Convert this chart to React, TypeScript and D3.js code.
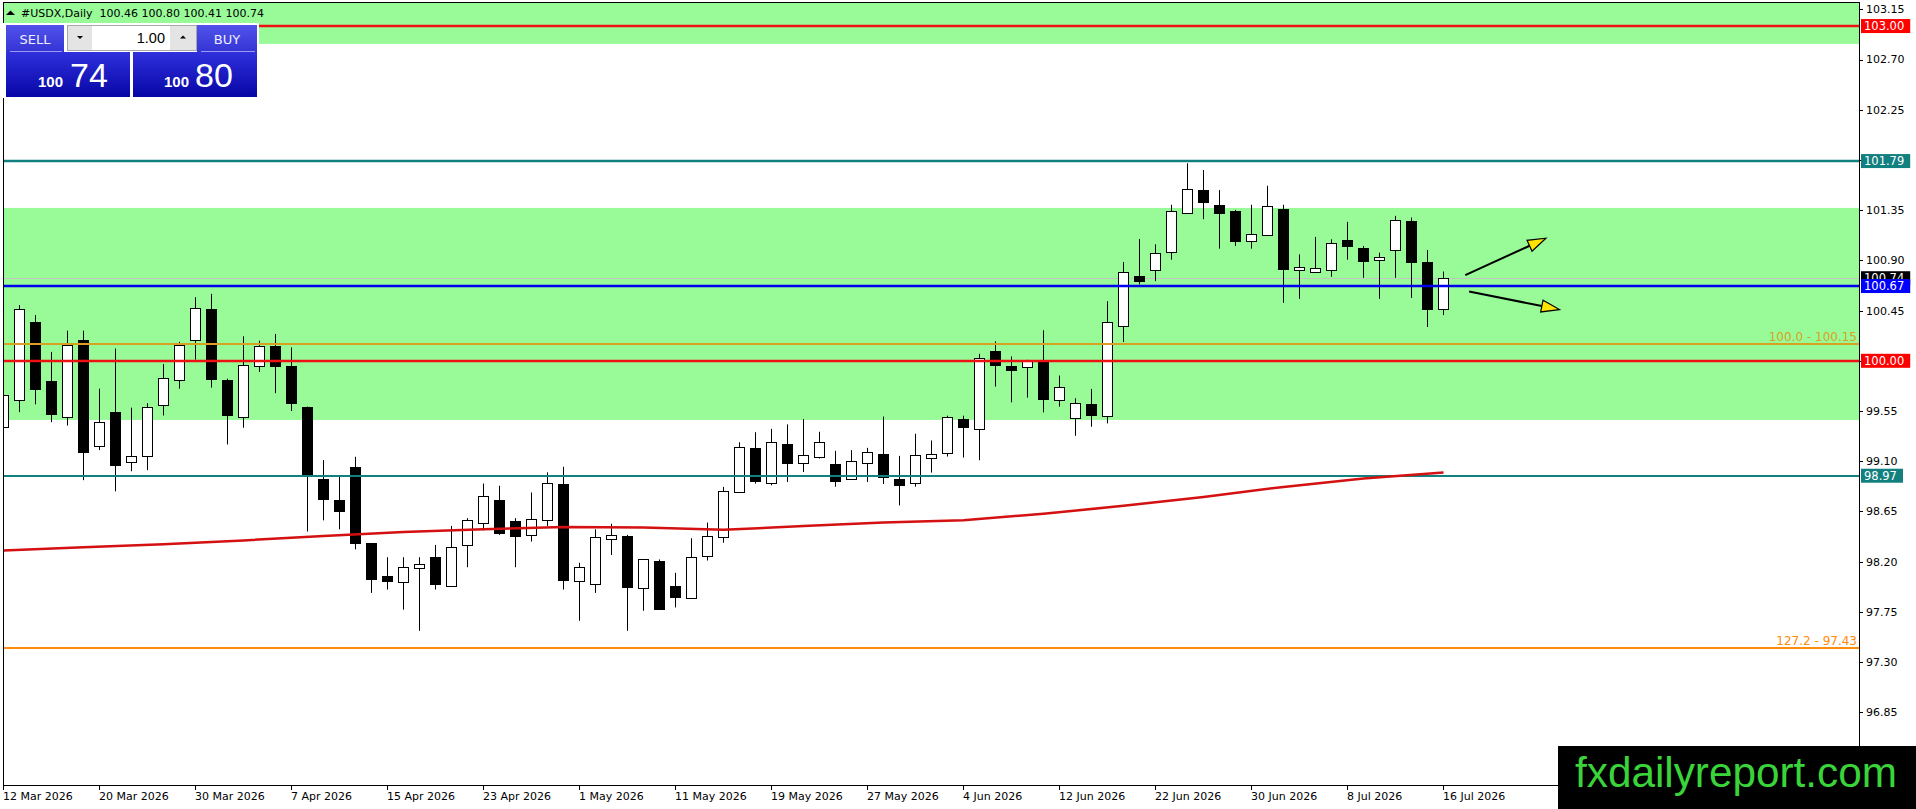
import * as d3 from "d3";
import React from "react";

// USDX daily, 12 Mar 2026 .. 16 Jul 2026 (one value per trading day)
const opens = [
  99.41, 99.65, 100.35, 99.82, 99.5, 100.19, 99.24, 99.54, 99.09, 99.15,
  99.6, 99.83, 100.19, 100.46, 99.83, 99.5, 99.955, 100.135, 99.95, 99.59,
  98.94, 98.75, 99.05, 98.365, 98.07, 98.02, 98.14, 98.24, 97.98, 98.35,
  98.55, 98.75, 98.56, 98.44, 98.57, 98.9, 98.03, 98.0, 98.4, 98.43,
  97.96, 98.21, 97.98, 97.87, 98.25, 98.42, 98.82, 99.22, 98.905, 99.256,
  99.082, 99.139, 99.076, 98.938, 99.088, 99.166, 98.944, 98.908, 99.127, 99.172,
  99.478, 99.388, 100.09, 99.949, 99.946, 100.0, 99.649, 99.484, 99.613, 99.505,
  100.315, 100.756, 100.81, 100.972, 101.323, 101.53, 101.398, 101.344, 101.071, 101.125,
  101.362, 100.81, 100.792, 100.81, 101.08, 101.008, 100.906, 100.996, 101.254, 100.885,
  100.46,
];
const highs = [
  99.72, 100.5, 100.41, 100.08, 100.27, 100.27, 99.75, 100.11, 99.58, 99.62,
  99.97, 100.17, 100.57, 100.6, 99.84, 100.22, 100.18, 100.24, 100.12, 99.59,
  99.11, 98.97, 99.14, 98.365, 98.24, 98.24, 98.24, 98.35, 98.52, 98.59,
  98.9, 98.88, 98.59, 98.82, 99.0, 99.05, 98.19, 98.49, 98.54, 98.44,
  98.22, 98.22, 98.1, 98.41, 98.55, 98.87, 99.27, 99.36, 99.39, 99.43,
  99.478, 99.364, 99.193, 99.2, 99.22, 99.5, 99.148, 99.346, 99.286, 99.508,
  99.508, 100.063, 100.174, 100.039, 100.009, 100.273, 99.868, 99.664, 99.748, 100.534,
  100.885, 101.092, 101.044, 101.398, 101.77, 101.71, 101.53, 101.353, 101.398, 101.569,
  101.398, 100.954, 101.11, 101.089, 101.245, 101.029, 100.969, 101.299, 101.284, 100.993,
  100.8,
];
const lows = [
  99.2, 99.54, 99.61, 99.45, 99.42, 98.93, 99.2, 98.83, 99.01, 99.02,
  99.51, 99.75, 100.01, 99.76, 99.25, 99.4, 99.9, 99.71, 99.55, 98.47,
  98.57, 98.49, 98.31, 97.92, 97.95, 97.77, 97.58, 97.95, 97.98, 98.15,
  98.48, 98.44, 98.15, 98.38, 98.52, 97.95, 97.67, 97.92, 98.26, 97.58,
  97.76, 97.78, 97.79, 97.87, 98.21, 98.37, 98.82, 98.9, 98.884, 98.914,
  99.004, 99.124, 98.872, 98.938, 98.914, 98.896, 98.704, 98.872, 98.998, 99.142,
  99.133, 99.109, 99.769, 99.628, 99.67, 99.538, 99.589, 99.328, 99.409, 99.439,
  100.168, 100.684, 100.714, 100.906, 101.323, 101.269, 101.005, 101.029, 101.005, 101.125,
  100.519, 100.555, 100.792, 100.753, 100.906, 100.744, 100.555, 100.744, 100.564, 100.303,
  100.41,
];
const closes = [
  99.69, 100.46, 99.75, 99.52, 100.14, 99.18, 99.45, 99.07, 99.145, 99.59,
  99.85, 100.14, 100.47, 99.84, 99.51, 99.96, 100.135, 99.955, 99.62, 98.99,
  98.76, 98.65, 98.37, 98.044, 98.03, 98.15, 98.18, 98.0, 98.33, 98.57,
  98.79, 98.46, 98.43, 98.58, 98.905, 98.04, 98.155, 98.42, 98.44, 97.97,
  98.22, 97.78, 97.885, 98.24, 98.43, 98.83, 99.226, 98.926, 99.274, 99.088,
  99.154, 99.274, 98.926, 99.103, 99.184, 98.959, 98.89, 99.154, 99.163, 99.496,
  99.403, 100.024, 99.964, 99.916, 100.009, 99.655, 99.766, 99.622, 99.511, 100.348,
  100.792, 100.717, 100.963, 101.341, 101.539, 101.419, 101.329, 101.077, 101.134, 101.389,
  100.825, 100.837, 100.828, 101.053, 101.032, 100.897, 100.93, 101.263, 100.888, 100.465,
  100.74,
];

// moving average read every 5 bars
const maBars = [0, 5, 10, 15, 20, 25, 30, 35, 40, 45, 50, 55, 60, 65, 70, 75, 80, 85, 90];
const maValues = [
  98.3, 98.33, 98.355, 98.39, 98.43, 98.465, 98.49, 98.51, 98.505, 98.485,
  98.52, 98.55, 98.57, 98.63, 98.7, 98.78, 98.87, 98.945, 99.0,
];

const timeLabels = [
  "12 Mar 2026", "20 Mar 2026", "30 Mar 2026", "7 Apr 2026", "15 Apr 2026",
  "23 Apr 2026", "1 May 2026", "11 May 2026", "19 May 2026", "27 May 2026",
  "4 Jun 2026", "12 Jun 2026", "22 Jun 2026", "30 Jun 2026", "8 Jul 2026", "16 Jul 2026",
];
const barsPerLabel = 6;

const priceTicks = [
  103.15, 102.7, 102.25, 101.8, 101.35, 100.9, 100.45, 100.0, 99.55, 99.1,
  98.65, 98.2, 97.75, 97.3, 96.85,
];

// green zones
const zoneTops = [103.3, 101.37];
const zoneBottoms = [102.84, 99.47];

// horizontal levels
const levelValues = [103.0, 101.79, 100.67, 100.15, 100.0, 98.97, 97.43];
const levelColors = ["#ee1111", "#138080", "#0000ee", "#d9a21e", "#ee1111", "#138080", "#ff8c0a"];
const levelWidths = [2.6, 2.6, 2.6, 2, 2.6, 2, 2];

// labels on the price scale
const tagValues = [103.0, 101.79, 100.74, 100.67, 100.0, 98.97];
const tagColors = ["#ff0000", "#138080", "#000000", "#0000ff", "#ff0000", "#138080"];

// fibo texts
const fiboValues = [100.15, 97.43];
const fiboTexts = ["100.0 - 100.15", "127.2 - 97.43"];
const fiboColors = ["#d9a21e", "#ff8c0a"];

// arrows (bar index, price)
const arrowFrom = [[91.36, 100.768], [91.6, 100.621]];
const arrowTo = [[96.4, 101.098], [97.25, 100.459]];

const bid = 100.74;
const title = "#USDX,Daily  100.46 100.80 100.41 100.74";

const W = 1916;
const H = 809;
const left = 3;
const right = 1859;
const top = 2;
const bottom = 785;

const axisFont = "'DejaVu Sans', Tahoma, sans-serif";
const panelFont = "'Liberation Sans', Arial, sans-serif";

const App: React.FC = () => {
  const x = d3.scaleLinear().domain([0, 90]).range([3.5, 1443.5]);
  const y = d3.scaleLinear().domain([96.85, 103.15]).range([712.3, 9.3]);

  const ma = d3
    .line<number>()
    .x((d, i) => x(maBars[i]))
    .y((d) => y(d));

  const crisp = (v: number) => Math.round(v) + 0.5;

  const arrowHead = (x1: number, y1: number, x2: number, y2: number) => {
    const dx = x2 - x1;
    const dy = y2 - y1;
    const len = Math.hypot(dx, dy);
    const ux = dx / len;
    const uy = dy / len;
    const bx = x2 - ux * 18;
    const by = y2 - uy * 18;
    const px = -uy * 6;
    const py = ux * 6;
    return { bx, by, pts: `${x2},${y2} ${bx + px},${by + py} ${bx - px},${by - py}` };
  };

  return (
    <svg
      width={W}
      height={H}
      style={{ position: "fixed", left: 0, top: 0, background: "#fff" }}
    >
      <defs>
        <clipPath id="plot">
          <rect x={left} y={top} width={right - left} height={bottom - top} />
        </clipPath>
        <linearGradient id="head" x1="0" y1="0" x2="0" y2="1">
          <stop offset="0" stopColor="#5252ea" />
          <stop offset="1" stopColor="#3434d6" />
        </linearGradient>
        <linearGradient id="price" x1="0" y1="0" x2="0" y2="1">
          <stop offset="0" stopColor="#3030dc" />
          <stop offset="1" stopColor="#0606a6" />
        </linearGradient>
      </defs>

      <g clipPath="url(#plot)">
        {zoneTops.map((t, i) => (
          <rect
            key={"z" + i}
            x={left}
            y={y(t)}
            width={right - left}
            height={y(zoneBottoms[i]) - y(t)}
            fill="#98fb98"
          />
        ))}

        <line
          x1={left}
          x2={right}
          y1={crisp(y(bid))}
          y2={crisp(y(bid))}
          stroke="#c4c4c4"
        />

        {opens.map((o, i) => {
          const c = closes[i];
          const cx = x(i);
          const yt = Math.round(y(Math.max(o, c))) + 0.5;
          const yb = Math.round(y(Math.min(o, c))) + 0.5;
          return (
            <g key={"c" + i}>
              <line x1={cx} x2={cx} y1={y(highs[i])} y2={y(lows[i])} stroke="#000" />
              <rect
                x={cx - 5}
                y={yt}
                width={10}
                height={Math.max(1, yb - yt)}
                fill={c >= o ? "#fff" : "#000"}
                stroke="#000"
              />
            </g>
          );
        })}

        {levelValues.map((v, i) => (
          <line
            key={"l" + i}
            x1={left}
            x2={right}
            y1={Math.round(y(v))}
            y2={Math.round(y(v))}
            stroke={levelColors[i]}
            strokeWidth={levelWidths[i]}
          />
        ))}

        <path d={ma(maValues) ?? ""} fill="none" stroke="#d41010" strokeWidth={2.5} />

        {fiboValues.map((v, i) => (
          <text
            key={"f" + i}
            x={right - 2}
            y={y(v) - 3}
            textAnchor="end"
            fontFamily={axisFont}
            fontSize={12}
            fill={fiboColors[i]}
          >
            {fiboTexts[i]}
          </text>
        ))}

        {arrowFrom.map((a, i) => {
          const x1 = x(a[0]);
          const y1 = y(a[1]);
          const x2 = x(arrowTo[i][0]);
          const y2 = y(arrowTo[i][1]);
          const h = arrowHead(x1, y1, x2, y2);
          return (
            <g key={"a" + i}>
              <line x1={x1} y1={y1} x2={h.bx} y2={h.by} stroke="#000" strokeWidth={2} />
              <polygon points={h.pts} fill="#ffe400" stroke="#000" strokeWidth={1.2} />
            </g>
          );
        })}
      </g>

      {/* frame */}
      <rect
        x={left + 0.5}
        y={top + 0.5}
        width={right - left}
        height={bottom - top}
        fill="none"
        stroke="#000"
      />

      {/* time axis */}
      {timeLabels.map((t, i) => {
        const tx = x(i * barsPerLabel);
        return (
          <g key={"t" + i}>
            <line x1={tx} x2={tx} y1={bottom} y2={bottom + 5} stroke="#000" />
            <text x={tx - 0.5} y={800} fontFamily={axisFont} fontSize={11} fill="#000">
              {t}
            </text>
          </g>
        );
      })}

      {/* price axis */}
      {priceTicks.map((p, i) => (
        <g key={"p" + i}>
          <line
            x1={right}
            x2={right + 4}
            y1={crisp(y(p))}
            y2={crisp(y(p))}
            stroke="#000"
          />
          <text
            x={right + 7}
            y={y(p)}
            dy="0.36em"
            fontFamily={axisFont}
            fontSize={11}
            fill="#000"
          >
            {p.toFixed(2)}
          </text>
        </g>
      ))}

      {tagValues.map((v, i) => {
        const label = v.toFixed(2);
        const w = label.length * 7.2 + 6;
        return (
          <g key={"g" + i}>
            <rect x={right + 2} y={y(v) - 7} width={w} height={14} fill={tagColors[i]} />
            <text
              x={right + 5}
              y={y(v)}
              dy="0.37em"
              fontFamily={axisFont}
              fontSize={11.5}
              fill="#fff"
            >
              {label}
            </text>
          </g>
        );
      })}

      {/* title */}
      <polygon points="6,15 10.5,10.5 15,15" fill="#000" />
      <text
        x={21}
        y={17}
        fontFamily={axisFont}
        fontSize={11}
        fill="#000"
        style={{ whiteSpace: "pre" }}
      >
        {title}
      </text>

      {/* one click trading panel */}
      <rect x={3} y={23} width={256} height={75} fill="#fff" />
      <rect x={6} y={25} width={58} height={27} fill="url(#head)" />
      <line x1={10} x2={62} y1={51.5} y2={51.5} stroke="#9a9af0" />
      <text x={35} y={44} textAnchor="middle" fontFamily={axisFont} fontSize={13} fill="#eef">
        SELL
      </text>
      <rect x={197} y={25} width={60} height={27} fill="url(#head)" />
      <line x1={201} x2={255} y1={51.5} y2={51.5} stroke="#9a9af0" />
      <text x={227} y={44} textAnchor="middle" fontFamily={axisFont} fontSize={13} fill="#eef">
        BUY
      </text>
      <rect x={67.5} y={25.5} width={129} height={25} fill="#fff" stroke="#a8a8a8" />
      <rect x={68} y={26} width={24} height={24} fill="#e4e4e4" />
      <rect x={170} y={26} width={26} height={24} fill="#e4e4e4" />
      <polygon points="77,36 83,36 80,39" fill="#000" />
      <polygon points="180,38.5 186,38.5 183,35.5" fill="#000" />
      <text x={165} y={43} textAnchor="end" fontFamily={panelFont} fontSize={14.5} fill="#000">
        1.00
      </text>
      <rect x={6} y={52} width={124} height={45} fill="url(#price)" />
      <rect x={133} y={52} width={124} height={45} fill="url(#price)" />
      <text x={38} y={87} fontFamily={panelFont} fontSize={15} fontWeight="bold" fill="#fff">
        100
      </text>
      <text x={70} y={87} fontFamily={panelFont} fontSize={34} fill="#fff">
        74
      </text>
      <text x={164} y={87} fontFamily={panelFont} fontSize={15} fontWeight="bold" fill="#fff">
        100
      </text>
      <text x={195} y={87} fontFamily={panelFont} fontSize={34} fill="#fff">
        80
      </text>

      {/* watermark */}
      <rect x={1558} y={746} width={W - 1558} height={H - 746} fill="#000" />
      <text
        x={1575}
        y={787}
        fontFamily={panelFont}
        fontSize={43}
        fill="#3ad43a"
        textLength={322}
        lengthAdjust="spacingAndGlyphs"
      >
        fxdailyreport.com
      </text>
    </svg>
  );
};

export default App;
